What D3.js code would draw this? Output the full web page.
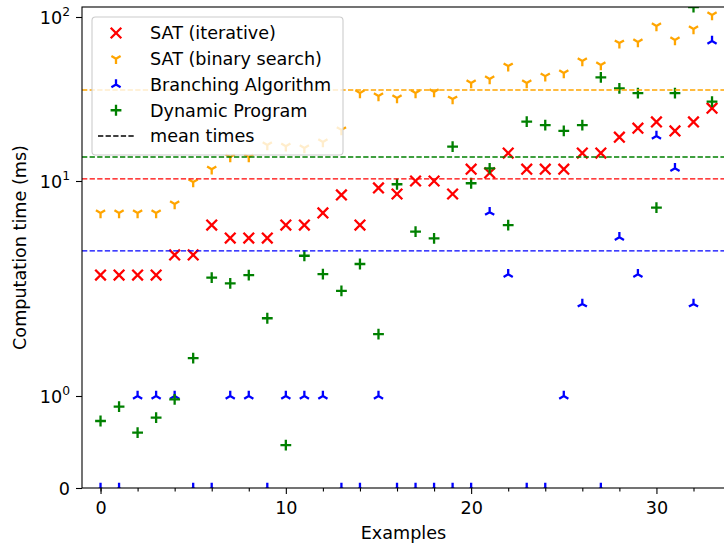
<!DOCTYPE html>
<html><head><meta charset="utf-8">
<script src="https://cdn.jsdelivr.net/npm/d3@7"></script>
<style>body{margin:0;background:#fff}svg{display:block}text{font-family:"DejaVu Sans",sans-serif;fill:#000}</style>
</head><body><div id="chart"></div>
<script>
// ---- data ----
const examples = [0,1,2,3,4,5,6,7,8,9,10,11,12,13,14,15,16,17,18,19,20,21,22,23,24,25,26,27,28,29,30,31,32,33];
const satIterative = [3.65,3.65,3.65,3.65,4.53,4.53,6.24,5.43,5.43,5.43,6.24,6.24,7.10,8.61,6.24,9.28,8.70,10.0,10.0,8.70,11.8,11.2,14.8,11.8,11.8,11.8,14.8,14.8,18.5,21.0,22.9,20.2,22.9,27.8];
const satBinary = [7.10,7.10,7.10,7.10,7.82,9.89,11.8,14.0,14.0,16.6,16.3,15.9,17.3,20.5,34.4,33.0,32.1,34.4,34.9,31.6,39.6,41.9,50.2,39.6,43.6,45.6,53.9,51.0,69.3,70.4,88.2,72.4,84.5,103];
const branching = [0,0,1,1,1,0,0,1,1,0,1,1,1,0,0,1,0,0,0,0,0,7.16,3.68,0,0,1,2.68,0,5.47,3.68,18.8,11.95,2.68,71.4];
const dynamicProg = [0.728,0.884,0.601,0.764,0.964,1.50,3.55,3.34,3.65,2.30,0.467,4.49,3.69,3.08,4.11,1.94,9.66,5.81,5.41,16.2,9.76,11.95,6.24,23.0,21.9,20.2,21.9,42.9,36.7,34.3,7.52,34.3,115,30.5];
const meanTimes = [10.3, 35.9, 4.73, 14.0]; // iterative, binary, branching, dynamic
const seriesNames = ["SAT (iterative)","SAT (binary search)","Branching Algorithm","Dynamic Program"];
const seriesColors = ["#ff0000","#ffa500","#0000ff","#008000"];
const seriesMarkers = ["x","tri_down","tri_up","plus"];
const yTickValues = [0,1,10,100];
const yTickBase = ["0","10","10","10"];
const yTickExp = ["","0","1","2"];
const xMajorTicks = [0,10,20,30];
const xMinorTicks = [-0,2,4,6,8,12,14,16,18,22,24,26,28,32];

// ---- layout ----
const W = 724, H = 548;
const L = 82, R = 725, T = 7, B = 488;
const FS = 17.6;

const svg = d3.select("#chart").append("svg").attr("width", W).attr("height", H);

const x = d3.scaleLinear().domain([-1, 33.7]).range([L, R]);
// symlog-like axis: linear below 1, log above; transformed value t
const tf = v => v <= 1 ? v : 1 + Math.log10(v);
const yT = d3.scaleLinear().domain([0,1,2,3]).range([B, 396, 181, 17]);
const y = v => yT(tf(v));

svg.append("defs").append("clipPath").attr("id","clip")
  .append("rect").attr("x", L).attr("y", T).attr("width", R - L).attr("height", B - T);

const markerPath = {
  x: "M-5.3,-5.3L5.3,5.3M-5.3,5.3L5.3,-5.3",
  plus: "M-5.4,0L5.4,0M0,-5.4L0,5.4",
  tri_down: "M0,0L0,5.3M0,0L-4.6,-2.65M0,0L4.6,-2.65",
  tri_up: "M0,0L0,-5.3M0,0L-4.6,2.65M0,0L4.6,2.65"
};

const plot = svg.append("g").attr("clip-path","url(#clip)");
const allSeries = [satIterative, satBinary, branching, dynamicProg];
allSeries.forEach((vals, si) => {
  plot.append("g").selectAll("path").data(examples).join("path")
    .attr("d", markerPath[seriesMarkers[si]])
    .attr("transform", (d,i) => `translate(${x(d)},${y(vals[i])})`)
    .attr("fill","none").attr("stroke", seriesColors[si])
    .attr("stroke-width", 2.3).attr("stroke-linecap","butt");
});

// mean lines
plot.append("g").selectAll("line").data(meanTimes).join("line")
  .attr("x1", L).attr("x2", R)
  .attr("y1", d => y(d)).attr("y2", d => y(d))
  .attr("stroke", (d,i) => seriesColors[i])
  .attr("stroke-width", 1.4).attr("stroke-dasharray","5.3,2.3");

// axes
const xAxisMinor = d3.axisBottom(x).tickValues(xMinorTicks).tickSize(3.5).tickFormat("");
const xAxis = d3.axisBottom(x).tickValues(xMajorTicks).tickSize(6).tickPadding(4).tickFormat(d3.format("d"));
const gxm = svg.append("g").attr("transform",`translate(0,${B})`).call(xAxisMinor);
const gx = svg.append("g").attr("transform",`translate(0,${B})`).call(xAxis);
[gx, gxm].forEach(g => {
  g.select(".domain").remove();
  g.selectAll("line").attr("stroke","#000").attr("stroke-width",1.1);
});
gx.selectAll("text").attr("font-size", FS).attr("fill","#000").attr("dy", null).attr("y", 26);

const yAxis = d3.axisLeft(yT).tickValues(yTickValues.map(tf)).tickSize(6).tickFormat("");
const gy = svg.append("g").attr("transform",`translate(${L},0)`).call(yAxis);
gy.select(".domain").remove();
gy.selectAll("line").attr("stroke","#000").attr("stroke-width",1.1);
gy.selectAll(".tick").each(function(d, i) {
  const t = d3.select(this).append("text").attr("x", -12).attr("y", 6.3)
    .attr("text-anchor","end").attr("font-size", FS);
  if (yTickExp[i] === "") {
    t.text(yTickBase[i]);
  } else {
    t.append("tspan").text(yTickBase[i]);
    t.append("tspan").attr("font-size", FS*0.7).attr("dy", -8).text(yTickExp[i]);
  }
});

// spines
svg.append("rect").attr("x", L).attr("y", T).attr("width", R - L).attr("height", B - T)
  .attr("fill","none").attr("stroke","#000").attr("stroke-width",1.1);

// axis labels
svg.append("text").attr("x", (L+R)/2).attr("y", 539).attr("text-anchor","middle")
  .attr("font-size", FS).text("Examples");
svg.append("text").attr("transform",`translate(26,${(T+B)/2}) rotate(-90)`)
  .attr("text-anchor","middle").attr("font-size", FS).text("Computation time (ms)");

// legend
const lg = svg.append("g");
lg.append("rect").attr("x", 92).attr("y", 17).attr("width", 251).attr("height", 138)
  .attr("rx", 3.5).attr("fill","#fff").attr("fill-opacity",0.8)
  .attr("stroke","#cccccc").attr("stroke-width",1.1);
const legendItems = seriesNames.map((n,i) => ({name:n, color:seriesColors[i], marker:seriesMarkers[i]}))
  .concat([{name:"mean times", color:"#000", marker:null}]);
const rowY = d3.scaleLinear().domain([0,4]).range([33, 136]);
legendItems.forEach((it, i) => {
  const g = lg.append("g").attr("transform",`translate(0,${rowY(i)})`);
  if (it.marker) {
    g.append("path").attr("d", markerPath[it.marker]).attr("transform","translate(116,0)")
      .attr("fill","none").attr("stroke", it.color).attr("stroke-width",2.3);
  } else {
    g.append("line").attr("x1",98).attr("x2",134).attr("y1",0).attr("y2",0)
      .attr("stroke","#000").attr("stroke-width",1.4).attr("stroke-dasharray","5.3,2.3");
  }
  g.append("text").attr("x",150).attr("y",6.3).attr("font-size",FS).text(it.name);
});
</script>
</body></html>
